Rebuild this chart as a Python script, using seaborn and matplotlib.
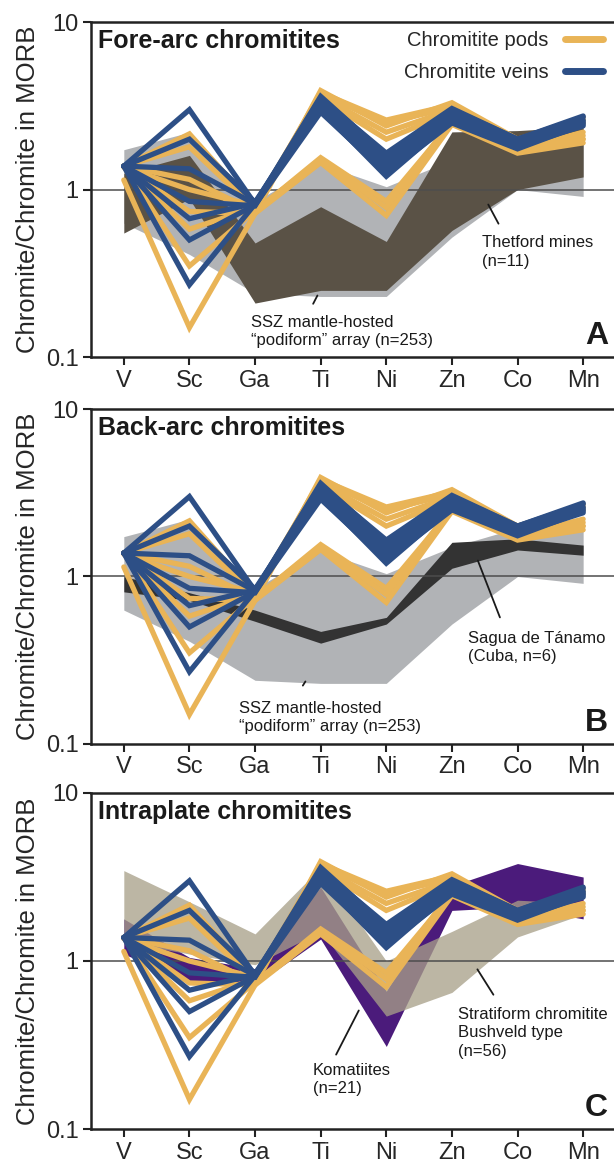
import numpy as np
import pandas as pd
import seaborn as sns
import matplotlib.pyplot as plt
from matplotlib.lines import Line2D
from matplotlib.ticker import NullLocator

# element order on the x axis
elements = ['V', 'Sc', 'Ga', 'Ti', 'Ni', 'Zn', 'Co', 'Mn']

# chromitite pods (yellow), one list per sample, values in element order
pod_lines = [
    [1.38, 2.15, 0.78, 3.80, 2.60, 3.20, 1.90, 2.70],
    [1.38, 1.80, 0.76, 3.60, 2.20, 3.00, 1.80, 2.10],
    [1.38, 1.15, 0.74, 1.55, 0.85, 2.50, 1.70, 2.00],
    [1.36, 1.00, 0.80, 3.70, 2.50, 3.10, 1.75, 2.50],
    [1.38, 0.74, 0.72, 1.45, 0.70, 2.45, 1.65, 1.90],
    [1.38, 0.58, 0.78, 3.50, 2.00, 2.90, 1.70, 2.00],
    [1.38, 0.35, 0.75, 1.50, 0.78, 2.60, 1.75, 2.20],
    [1.14, 0.15, 0.72, 3.90, 2.40, 3.30, 2.00, 2.60],
]

# chromitite veins (blue)
vein_lines = [
    [1.38, 3.00, 0.82, 3.60, 1.60, 3.00, 2.00, 2.70],
    [1.38, 2.00, 0.84, 3.30, 1.30, 2.80, 1.90, 2.50],
    [1.38, 1.33, 0.82, 3.00, 1.20, 2.60, 1.80, 2.40],
    [1.38, 0.85, 0.80, 3.40, 1.50, 2.90, 1.95, 2.60],
    [1.38, 0.67, 0.83, 3.20, 1.40, 2.70, 1.85, 2.55],
    [1.38, 0.50, 0.81, 2.90, 1.25, 2.50, 1.75, 2.45],
    [1.38, 0.27, 0.82, 3.50, 1.65, 3.05, 2.00, 2.75],
]

# reference fields (upper / lower envelopes)
ssz_upper = [1.73, 2.20, 0.85, 1.42, 1.04, 1.50, 1.95, 2.00]
ssz_lower = [0.63, 0.41, 0.24, 0.23, 0.23, 0.52, 1.00, 0.91]
thetford_upper = [1.25, 1.60, 0.48, 0.79, 0.49, 2.21, 2.25, 2.37]
thetford_lower = [0.55, 0.88, 0.21, 0.25, 0.25, 0.57, 1.00, 1.19]
sagua_upper = [1.00, 0.80, 0.63, 0.47, 0.57, 1.60, 1.68, 1.54]
sagua_lower = [0.81, 0.72, 0.54, 0.40, 0.52, 1.12, 1.44, 1.34]
komatiite_upper = [1.78, 1.05, 0.90, 2.75, 0.66, 2.80, 3.80, 3.16]
komatiite_lower = [1.10, 0.75, 0.72, 1.35, 0.31, 2.00, 2.10, 1.78]
stratiform_upper = [3.45, 2.25, 1.45, 3.60, 1.00, 1.50, 2.30, 2.20]
stratiform_lower = [1.30, 1.10, 0.95, 1.50, 0.47, 0.65, 1.39, 1.90]

YELLOW = '#e9b457'
BLUE = '#2d4f86'

sns.set_theme(style='ticks')
plt.rcParams['font.family'] = ['Liberation Sans', 'DejaVu Sans']

# long-form table for the pod and vein lines
rows = []
for kind, group in [('pods', pod_lines), ('veins', vein_lines)]:
    for i, line in enumerate(group):
        for j, v in enumerate(line):
            rows.append({'type': kind, 'sample': f'{kind}{i}', 'pos': j, 'ratio': v})
lines_df = pd.DataFrame(rows)
pos = np.arange(len(elements))

fig = plt.figure(figsize=(6.14, 11.63), dpi=100)
boxes = [[0.1482, 0.693, 0.855, 0.288],
         [0.1482, 0.3603, 0.855, 0.288],
         [0.1482, 0.0292, 0.855, 0.289]]
titles = ['Fore-arc chromitites', 'Back-arc chromitites', 'Intraplate chromitites']
letters = ['A', 'B', 'C']

for k, box in enumerate(boxes):
    ax = fig.add_axes(box)

    if k == 0:
        ax.fill_between(pos, ssz_lower, ssz_upper, color='#b1b3b6', lw=0, zorder=1)
        ax.fill_between(pos, thetford_lower, thetford_upper, color='#5a5246', lw=0, zorder=1.5)
    elif k == 1:
        ax.fill_between(pos, ssz_lower, ssz_upper, color='#b1b3b6', lw=0, zorder=1)
        ax.fill_between(pos, sagua_lower, sagua_upper, color='#333333', lw=0, zorder=1.5)
    else:
        ax.fill_between(pos, komatiite_lower, komatiite_upper, color='#4b1b7b', lw=0, zorder=1)
        ax.fill_between(pos, stratiform_lower, stratiform_upper, color='#a8a089',
                        alpha=0.77, lw=0, zorder=1.5)

    ax.axhline(1, color='#4d4d4d', lw=1.1, zorder=2)

    sns.lineplot(data=lines_df, x='pos', y='ratio', hue='type', units='sample',
                 estimator=None, hue_order=['pods', 'veins'],
                 palette={'pods': YELLOW, 'veins': BLUE}, lw=3.8,
                 solid_joinstyle='miter', legend=False, ax=ax, zorder=3)

    ax.set_yscale('log')
    ax.set_ylim(0.1, 10)
    ax.set_xlim(-0.5, 7.5)
    ax.set_yticks([0.1, 1, 10])
    ax.set_yticklabels(['0.1', '1', '10'])
    ax.yaxis.set_minor_locator(NullLocator())
    ax.set_xticks(pos)
    ax.set_xticklabels(elements)
    ax.set_xlabel('')
    ax.set_ylabel('Chromite/Chromite in MORB', fontsize=18.5, labelpad=4)
    ax.tick_params(axis='both', labelsize=17, length=6, width=1.5, pad=3,
                   color='#222222')
    for sp in ax.spines.values():
        sp.set_linewidth(1.8)
        sp.set_color('#222222')

    ax.text(0.0133, 0.943, titles[k], transform=ax.transAxes, fontsize=18,
            fontweight='bold', ha='left', va='center', color='#1a1a1a')
    ax.text(0.985, 0.062, letters[k], transform=ax.transAxes, fontsize=23,
            fontweight='bold', ha='right', va='center', color='#1a1a1a')

    note = dict(fontsize=12, ha='left', va='center', color='#1a1a1a',
                linespacing=1.3)
    stick = dict(arrowstyle='-', lw=1.3, color='#1a1a1a')
    if k == 0:
        ax.text(5.457, 0.424, 'Thetford mines\n(n=11)', **note)
        ax.annotate('', xy=(5.534, 0.842), xytext=(5.73, 0.605), arrowprops=stick)
        ax.text(1.936, 0.142, 'SSZ mantle-hosted\n\u201cpodiform\u201d array (n=253)', **note)
        ax.annotate('', xy=(2.97, 0.241), xytext=(2.866, 0.201), arrowprops=stick)
        handles = [Line2D([], [], color=YELLOW, lw=5),
                   Line2D([], [], color=BLUE, lw=5)]
        ax.legend(handles, ['Chromitite pods', 'Chromitite veins'], loc='upper right',
                  bbox_to_anchor=(0.975, 0.972), markerfirst=False, frameon=False,
                  fontsize=14.5, handlelength=1.9, handletextpad=0.8,
                  labelspacing=0.6, borderpad=0, borderaxespad=0)
    elif k == 1:
        ax.text(5.244, 0.377, 'Sagua de T\u00e1namo\n(Cuba, n=6)', **note)
        ax.annotate('', xy=(5.38, 1.29), xytext=(5.747, 0.55), arrowprops=stick)
        ax.text(1.753, 0.144, 'SSZ mantle-hosted\n\u201cpodiform\u201d array (n=253)', **note)
        ax.annotate('', xy=(2.79, 0.244), xytext=(2.706, 0.216), arrowprops=stick)
    else:
        ax.text(2.88, 0.197, 'Komatiites\n(n=21)', **note)
        ax.annotate('', xy=(3.6, 0.525), xytext=(3.216, 0.268), arrowprops=stick)
        ax.text(5.09, 0.373, 'Stratiform chromitite\nBushveld type\n(n=56)', **note)
        ax.annotate('', xy=(5.366, 0.921), xytext=(5.655, 0.61), arrowprops=stick)

fig.savefig('out.png', dpi=100)
